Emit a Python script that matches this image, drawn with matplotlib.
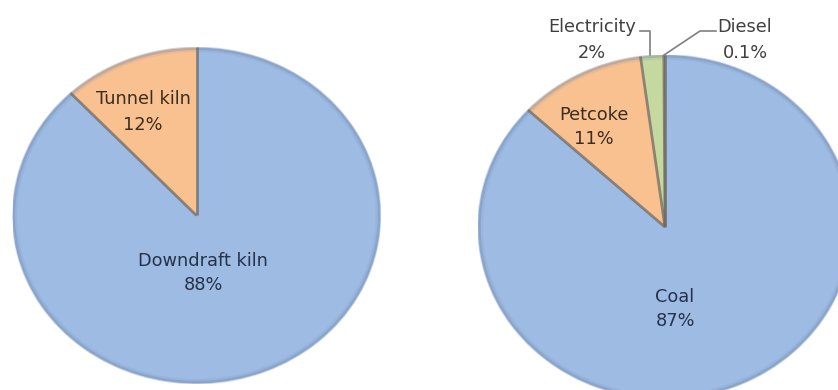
import matplotlib
matplotlib.use("Agg")
import matplotlib.pyplot as plt
import numpy as np

# Kiln type share
kiln_labels = ["Tunnel kiln", "Downdraft kiln"]
kiln_values = [12, 88]

# Fuel share
fuel_labels = ["Diesel", "Electricity", "Petcoke", "Coal"]
fuel_values = [0.1, 2, 11, 87]

BLUE = "#9ebbe3"
ORANGE = "#fac190"
GREEN = "#c5d8a0"
kiln_colors = [ORANGE, BLUE]
fuel_colors = ["#8fa6c8", GREEN, ORANGE, BLUE]

W, H = 838, 390
fig = plt.figure(figsize=(W / 100, H / 100), dpi=100)
fig.patch.set_facecolor("white")


def pie_axes(cx, cy, rx, ry):
    """Axes in pixel units (y from top) holding an elliptical pie."""
    return fig.add_axes([(cx - rx) / W, (H - cy - ry) / H, 2 * rx / W, 2 * ry / H])


def draw_pie(ax, values, colors):
    wedges, _ = ax.pie(values, colors=colors, startangle=90, counterclock=True,
                       wedgeprops=dict(edgecolor="none", linewidth=0))
    ax.set_aspect("auto")
    ax.set_xlim(-1.0, 1.0)
    ax.set_ylim(-1.0, 1.0)
    ax.axis("off")
    # soft outer rim
    t = np.linspace(0, 2 * np.pi, 400)
    for r, a, lw in [(0.995, 0.30, 2.5), (0.985, 0.12, 3.0)]:
        ax.plot(r * np.cos(t), r * np.sin(t), color="#6d84a8", alpha=a, lw=lw,
                solid_capstyle="round")
    # radial slice boundaries
    total = sum(values)
    ang = 90.0
    bounds = [ang]
    for v in values:
        ang += 360.0 * v / total
        bounds.append(ang)
    for b in bounds[:-1]:
        th = np.deg2rad(b)
        ax.plot([0, np.cos(th)], [0, np.sin(th)], color="#6f6a62", lw=2.0, alpha=0.75,
                solid_capstyle="butt")
    return wedges


axL = pie_axes(196.5, 215.5, 184, 168)
draw_pie(axL, kiln_values, kiln_colors)

axR = pie_axes(665, 227, 187, 172)
draw_pie(axR, fuel_values, fuel_colors)

# Overlay for labels in pixel coordinates
ov = fig.add_axes([0, 0, 1, 1])
ov.set_xlim(0, W)
ov.set_ylim(H, 0)
ov.axis("off")

FONT = dict(family="DejaVu Sans", fontsize=12.8, ha="center", va="center",
            linespacing=1.5)


def pct(v):
    return f"{v:g}%"


ov.text(143, 112, f"{kiln_labels[0]}\n{pct(kiln_values[0])}", color="#3a2e22", **FONT)
ov.text(203, 273, f"{kiln_labels[1]}\n{pct(kiln_values[1])}", color="#26324a", **FONT)

ov.text(594, 127, f"{fuel_labels[2]}\n{pct(fuel_values[2])}", color="#3a2e22", **FONT)
ov.text(675, 309, f"{fuel_labels[3]}\n{pct(fuel_values[3])}", color="#26324a", **FONT)
ov.text(592, 40, f"{fuel_labels[1]}\n{pct(fuel_values[1])}", color="#404040", **FONT)
ov.text(745, 40, f"{fuel_labels[0]}\n{pct(fuel_values[0])}", color="#404040", **FONT)

# leader lines for the thin slices
ov.plot([640, 650, 650], [31, 31, 55], color="#7f7f7f", lw=1.2)
ov.plot([716, 700, 664], [31, 31, 55], color="#7f7f7f", lw=1.2)

fig.savefig("out.png", dpi=100, facecolor="white")
